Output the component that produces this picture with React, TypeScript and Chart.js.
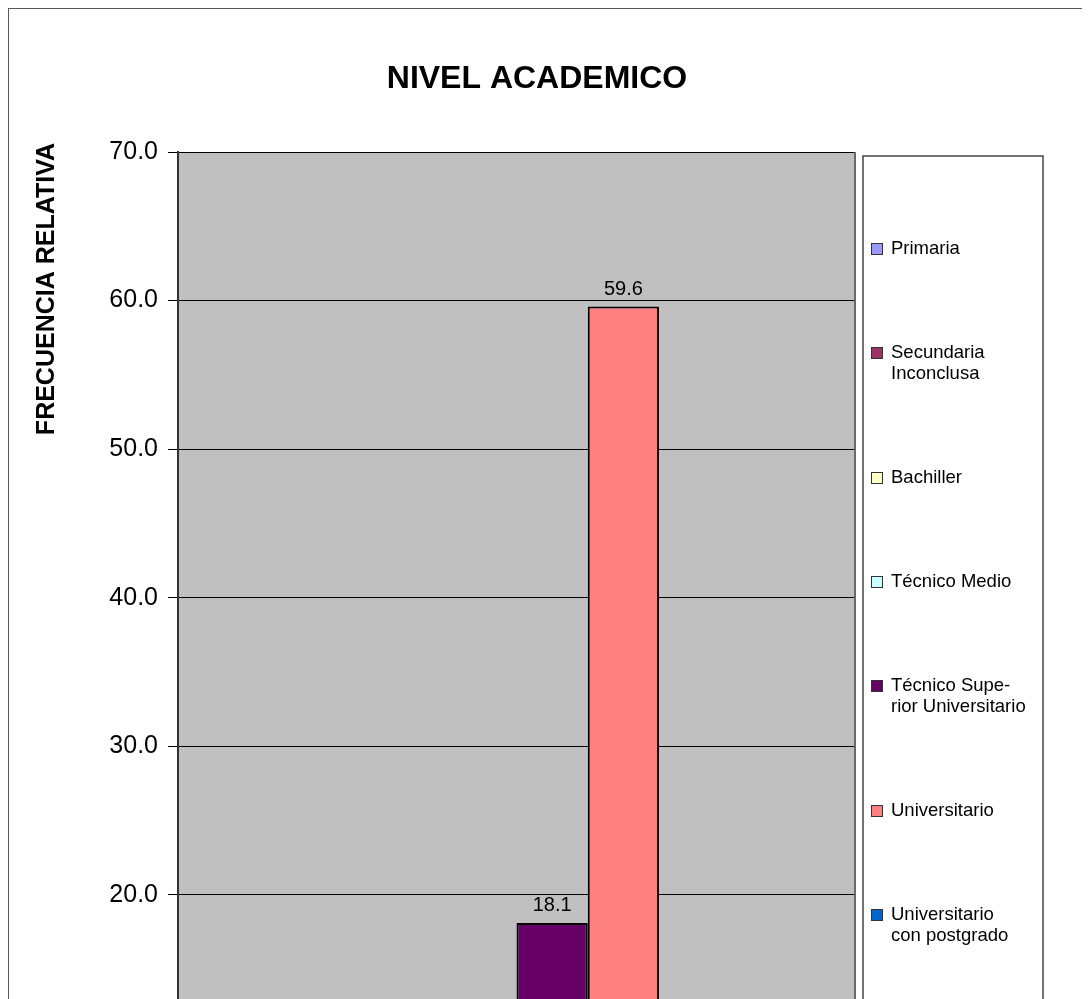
import React, { useEffect, useRef } from "react";
import { Chart, registerables } from "chart.js";

Chart.register(...registerables);

const CHART_TITLE = "NIVEL ACADEMICO";
const Y_TITLE = "FRECUENCIA RELATIVA";
const CATEGORIES = ["NIVEL ACADEMICO"];
const SERIES_NAMES = [
  "Primaria",
  "Secundaria Inconclusa",
  "Bachiller",
  "Técnico Medio",
  "Técnico Superior Universitario",
  "Universitario",
  "Universitario con postgrado",
];
const LEGEND_LINES = [
  ["Primaria"],
  ["Secundaria", "Inconclusa"],
  ["Bachiller"],
  ["Técnico Medio"],
  ["Técnico Supe-", "rior Universitario"],
  ["Universitario"],
  ["Universitario", "con postgrado"],
];
const SERIES_VALUES = [1.1, 2.1, 8.5, 5.3, 18.1, 59.6, 5.3];
const SERIES_COLORS = ["#9999FF", "#993366", "#FFFFCC", "#CCFFFF", "#660066", "#FF8080", "#0066CC"];
const Y_MIN = 0;
const Y_MAX = 70;
const Y_STEP = 10;

const FONT = "'Liberation Sans', Arial, sans-serif";
const W = 1100;
const H = 1300;

export default function App() {
  const ref = useRef<HTMLCanvasElement | null>(null);

  useEffect(() => {
    if (!ref.current) return;
    const datasets: any[] = SERIES_NAMES.map((name, i) => ({
      label: name,
      data: [SERIES_VALUES[i]],
      backgroundColor: SERIES_COLORS[i],
      borderColor: "#000000",
      borderWidth: 2,
      borderSkipped: false,
      categoryPercentage: 8 / 9.5,
      barPercentage: 1,
    }));
    // blank eighth series (as in the original workbook)
    datasets.push({
      label: "",
      data: [null],
      backgroundColor: "rgba(0,0,0,0)",
      borderWidth: 0,
      categoryPercentage: 8 / 9.5,
      barPercentage: 1,
    });

    const decor = {
      id: "decor",
      beforeDraw(chart: any) {
        const { ctx, chartArea } = chart;
        ctx.save();
        ctx.fillStyle = "#ffffff";
        ctx.fillRect(0, 0, chart.width, chart.height);
        // outer border (top, left, bottom)
        ctx.strokeStyle = "#585858";
        ctx.lineWidth = 2;
        ctx.beginPath();
        ctx.moveTo(W, 1);
        ctx.lineTo(1, 1);
        ctx.lineTo(1, H - 1);
        ctx.lineTo(W, H - 1);
        ctx.stroke();
        // plot background
        ctx.fillStyle = "#C0C0C0";
        ctx.fillRect(chartArea.left, chartArea.top, chartArea.right - chartArea.left, chartArea.bottom - chartArea.top);
        ctx.restore();
      },
      afterDraw(chart: any) {
        const { ctx, chartArea } = chart;
        ctx.save();
        // right border of plot
        ctx.strokeStyle = "#6a6a6a";
        ctx.lineWidth = 2;
        ctx.beginPath();
        ctx.moveTo(chartArea.right, chartArea.top);
        ctx.lineTo(chartArea.right, chartArea.bottom);
        ctx.stroke();

        // title
        ctx.fillStyle = "#000000";
        ctx.font = `bold 32px ${FONT}`;
        ctx.textAlign = "center";
        ctx.textBaseline = "middle";
        ctx.fillText(CHART_TITLE, 530, 72);

        // y axis title
        ctx.save();
        ctx.translate(40, 136);
        ctx.rotate(-Math.PI / 2);
        ctx.font = `bold 25px ${FONT}`;
        ctx.textAlign = "right";
        ctx.textBaseline = "middle";
        ctx.fillText(Y_TITLE, 0, 0);
        ctx.restore();

        // data labels
        ctx.font = `20px ${FONT}`;
        ctx.textAlign = "center";
        ctx.textBaseline = "alphabetic";
        chart.data.datasets.forEach((ds: any, di: number) => {
          const meta = chart.getDatasetMeta(di);
          meta.data.forEach((el: any, j: number) => {
            const v = ds.data[j];
            if (v === null || v === undefined) return;
            ctx.fillText(Number(v).toFixed(1), el.x, el.y - 12);
          });
        });

        // legend
        const boxL = 856, boxT = 149, boxR = 1036, boxB = 1013;
        ctx.fillStyle = "#ffffff";
        ctx.fillRect(boxL, boxT, boxR - boxL, boxB - boxT);
        ctx.strokeStyle = "#444444";
        ctx.lineWidth = 1.5;
        ctx.strokeRect(boxL, boxT, boxR - boxL, boxB - boxT);
        ctx.font = `18.5px ${FONT}`;
        ctx.textAlign = "left";
        ctx.textBaseline = "middle";
        const lineH = 21;
        const gap = 83;
        let y = 242;
        LEGEND_LINES.forEach((lines, i) => {
          ctx.fillStyle = SERIES_COLORS[i];
          ctx.fillRect(864, y - 6, 12, 12);
          ctx.strokeStyle = "#333333";
          ctx.lineWidth = 1;
          ctx.strokeRect(864.5, y - 5.5, 11, 11);
          ctx.fillStyle = "#000000";
          lines.forEach((t, k) => ctx.fillText(t, 884, y + k * lineH));
          y += lines.length * lineH + gap;
        });
        ctx.restore();
      },
    };

    const chart = new Chart(ref.current, {
      type: "bar",
      data: { labels: CATEGORIES, datasets },
      options: {
        animation: false,
        responsive: false,
        maintainAspectRatio: false,
        layout: { padding: { left: 0, top: 145, right: 252, bottom: 115 } },
        plugins: {
          legend: { display: false },
          title: { display: false },
          tooltip: { enabled: false },
        },
        scales: {
          x: { display: false },
          y: {
            min: Y_MIN,
            max: Y_MAX,
            afterFit(scale: any) {
              scale.width = 171;
            },
            ticks: {
              stepSize: Y_STEP,
              padding: 10,
              color: "#000000",
              font: { family: FONT, size: 25 },
              callback: (v: any) => Number(v).toFixed(1),
            },
            grid: {
              color: "#000000",
              lineWidth: 1,
              drawTicks: true,
              tickLength: 10,
              tickColor: "#000000",
            },
            border: { display: true, color: "#333333", width: 2 },
          },
        },
      },
      plugins: [decor],
    });
    return () => chart.destroy();
  }, []);

  return (
    <div style={{ position: "relative", left: -1, top: -1, width: W, height: H }}>
      <canvas ref={ref} width={W} height={H} style={{ display: "block", width: W, height: H }} />
    </div>
  );
}
